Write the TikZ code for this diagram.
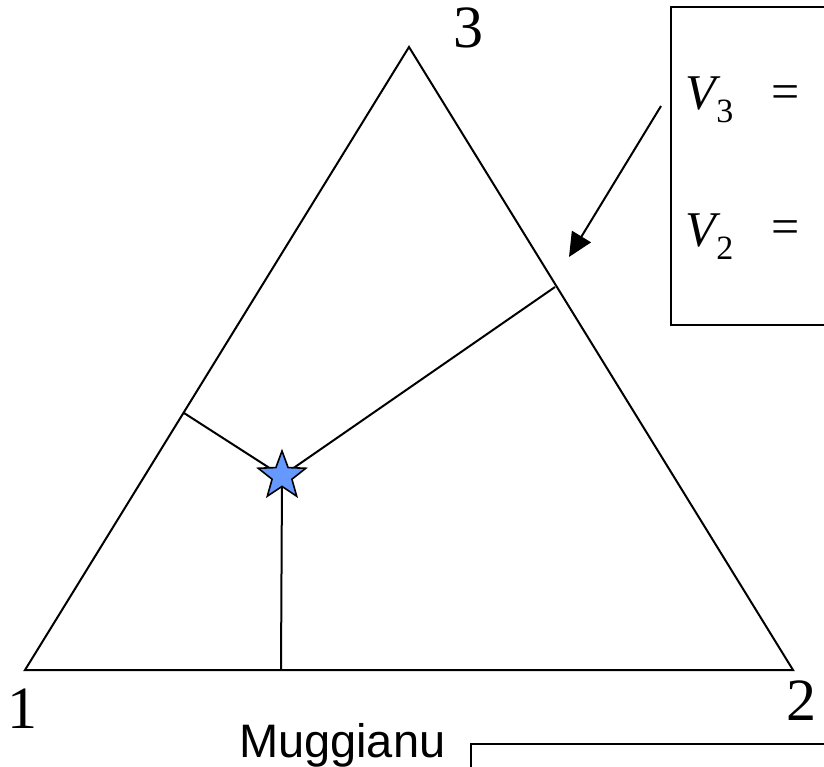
\documentclass[tikz,border=0pt]{standalone}
\usepackage{fontspec}
\setmainfont{Liberation Serif}
\setsansfont{Liberation Sans}
\usetikzlibrary{arrows.meta,shapes.geometric}

\begin{document}
\begin{tikzpicture}[x=1pt,y=-1pt,line width=2pt]
\definecolor{starblue}{RGB}{102,153,255}
\providecommand{\fcorner}{\fontsize{60}{66}\selectfont}
\providecommand{\fvar}{\fontsize{50}{56}\selectfont}
\providecommand{\fsub}{\fontsize{34}{38}\selectfont}
\providecommand{\fname}{\fontsize{47}{52}\selectfont\sffamily}
\useasboundingbox (0,0) rectangle (824,767);
\clip (0,0) rectangle (824,767);
\coordinate (v1) at (25,670);
\coordinate (v2) at (793,670);
\coordinate (v3) at (409,47);
\draw (v1) -- (v2) -- (v3) -- cycle;
\node[anchor=center,inner sep=0pt,font=\fcorner] (lab1) at (22,709) {1};
\node[anchor=center,inner sep=0pt,font=\fcorner] (lab2) at (801,701) {2};
\node[anchor=center,inner sep=0pt,font=\fcorner] (lab3) at (468,28) {3};
\coordinate (pt) at (282,476);
\coordinate (f12) at (281,670);
\coordinate (f13) at (184,413);
\coordinate (f23) at (555,287);
\draw (pt) -- (f12);
\draw (pt) -- (f13);
\draw (pt) -- (f23);
\node[star,star points=5,star point ratio=2.4,minimum size=50pt,inner sep=0pt,fill=starblue,draw=black,line width=1.6pt] (star) at (pt) {};
\draw (671,7) rectangle (900,325);
\node[anchor=base west,inner sep=0pt,font=\fvar] (eq3) at (684,110) {\textit{V}\kern-4pt\raisebox{-13pt}{\fsub 3}};
\node[anchor=center,inner sep=0pt,font=\fvar] (eqs3) at (786,97) {=};
\node[anchor=base west,inner sep=0pt,font=\fvar] (eq2) at (684,247) {\textit{V}\kern-4pt\raisebox{-13pt}{\fsub 2}};
\node[anchor=center,inner sep=0pt,font=\fvar] (eqs2) at (786,232) {=};
\coordinate (arrstart) at (661,106);
\coordinate (arrtip) at (569,257);
\draw[-{Triangle[length=24pt,width=22pt]}] (arrstart) -- (arrtip);
\node[anchor=base west,inner sep=0pt,font=\fname] (muggianu) at (238,757) {Muggianu};
\draw (471,744) rectangle (900,900);
\end{tikzpicture}
\end{document}
